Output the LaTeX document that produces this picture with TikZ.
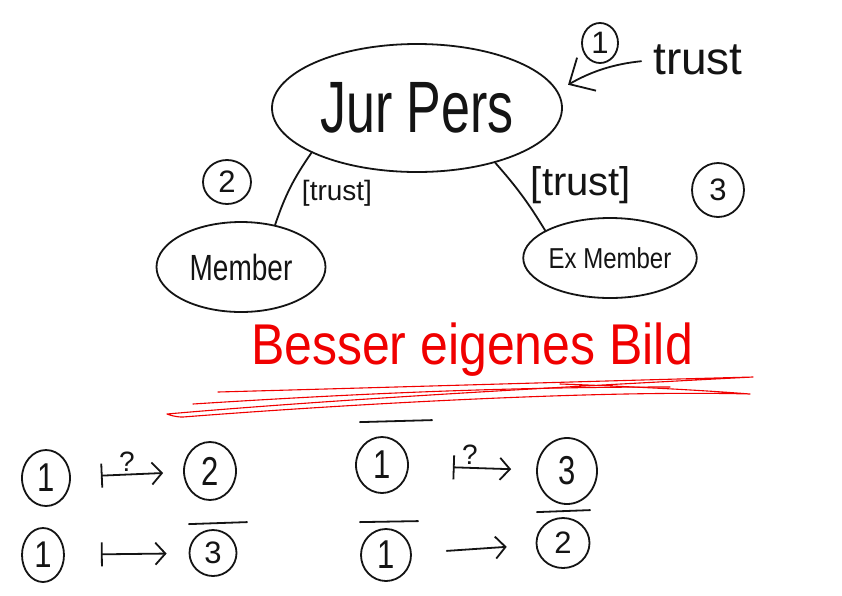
\documentclass[tikz,border=0pt]{standalone}
\usepackage{fontspec}
\setmainfont{Liberation Sans}
\usetikzlibrary{shapes.geometric,arrows.meta,calc}
\definecolor{ink}{RGB}{20,20,20}
\definecolor{redink}{RGB}{240,0,0}
\tikzset{
  pen/.style={line width=1.8pt, draw=ink},
  blob/.style={ellipse, draw=ink, line width=1.8pt, inner sep=0pt, text=ink},
  num/.style={blob, font=\fontsize{31}{33}\selectfont},
  lbl/.style={text=ink, inner sep=0pt},
  mapsto/.style={pen, {Bar[width=24pt]}-{Straight Barb[length=10pt,width=22pt]}},
  plainarrow/.style={pen, -{Straight Barb[length=10pt,width=22pt]}},
  qm/.style={lbl, font=\fontsize{28}{30}\selectfont},
  redline/.style={draw=redink, line width=1.1pt},
}
\begin{document}
\begin{tikzpicture}[x=1pt,y=-1pt, line cap=round, line join=round]
\fill[white] (0,0) rectangle (842,595);
\useasboundingbox (0,0) rectangle (842,595);

% main ellipses
\node[blob, minimum width=290pt, minimum height=128pt, font=\fontsize{52}{60}\selectfont] (jp) at (417,108) {\scalebox{1}[1.4]{Jur Pers}};
\node[blob, minimum width=169pt, minimum height=90pt, font=\fontsize{28}{30}\selectfont] (mem) at (241,267) {\scalebox{1}[1.3]{Member}};
\node[blob, minimum width=160pt, minimum height=80pt, font=\fontsize{24}{26}\selectfont] (ex) at (610,258) {\scalebox{1}[1.2]{Ex Member}};

% circled numbers, top
\node[num, minimum width=36pt, minimum height=40pt] (t1) at (600,43) {1};
\node[num, minimum width=48pt, minimum height=44pt] (t2) at (227,182) {2};
\node[num, minimum width=52pt, minimum height=54pt] (t3) at (718,190) {3};

% trust label with arrow
\node[lbl, font=\fontsize{46}{50}\selectfont] (trust) at (698,60) {trust};
\draw[pen, -{Straight Barb[length=20pt,width=38pt]}, shorten <=12pt, shorten >=12pt] (trust.west) to[bend right=12] (jp.7);

% connectors
\draw[pen] (jp.203) to[bend right=8] (mem.51);
\draw[pen] (jp.325) to[bend left=5] (ex.157);
\node[lbl, font=\fontsize{28}{30}\selectfont] (lt) at (337,193) {[trust]};
\node[lbl, font=\fontsize{40}{44}\selectfont] (rt) at (581,185) {[trust]};

% red title
\node[text=redink, inner sep=0pt, font=\fontsize{50}{54}\selectfont] (title) at (472,350) {\scalebox{1}[1.15]{Besser eigenes Bild}};
\draw[redline] (218,392) .. controls (400,387) and (600,381) .. (753,377)
  .. controls (600,385) and (350,398) .. (167,414)
  .. controls (175,417) and (180,417) .. (183,417)
  .. controls (350,404) and (600,390) .. (750,394)
  .. controls (700,390) and (620,386) .. (560,384);
\draw[redline] (193,404) .. controls (350,394) and (500,387) .. (670,387);

% bottom left
\node[num, minimum width=48pt, minimum height=56pt] (a1) at (46,478) {\scalebox{1}[1.3]{1}};
\node[num, minimum width=52pt, minimum height=58pt] (a2) at (210,471) {\scalebox{1}[1.3]{2}};
\node[num, minimum width=42pt, minimum height=54pt] (b1) at (43,555) {\scalebox{1}[1.2]{1}};
\node[num, minimum width=47pt, minimum height=46pt] (b3) at (213,553) {3};
\draw[mapsto, shorten <=30pt, shorten >=20pt] (a1) -- node[qm, pos=0.5, above=2pt] {?} (a2);
\draw[mapsto, shorten <=36pt, shorten >=22pt] (b1) -- (b3);
\draw[pen] ([xshift=-24pt,yshift=5pt]b3.north) -- ([xshift=34pt,yshift=7pt]b3.north);

% bottom right
\node[num, minimum width=52pt, minimum height=56pt] (c1) at (382,465) {\scalebox{1}[1.3]{1}};
\node[num, minimum width=60pt, minimum height=66pt] (c3) at (567,471) {\scalebox{1}[1.3]{3}};
\node[num, minimum width=50pt, minimum height=52pt] (d1) at (386,555) {\scalebox{1}[1.3]{1}};
\node[num, minimum width=53pt, minimum height=50pt] (d2) at (563,543) {2};
\draw[mapsto, shorten <=44pt, shorten >=25pt] (c1) -- node[qm, pos=0.48, above=2pt] {?} (c3);
\draw[plainarrow, shorten <=35pt, shorten >=29pt] (d1) -- (d2);
\draw[pen] ([xshift=-22pt,yshift=14pt]c1.north) -- ([xshift=50pt,yshift=16pt]c1.north);
\draw[pen] ([xshift=-26pt,yshift=6pt]d1.north) -- ([xshift=32pt,yshift=7pt]d1.north);
\draw[pen] ([xshift=-26pt,yshift=5pt]d2.north) -- ([xshift=27pt,yshift=7pt]d2.north);
\end{tikzpicture}
\end{document}
